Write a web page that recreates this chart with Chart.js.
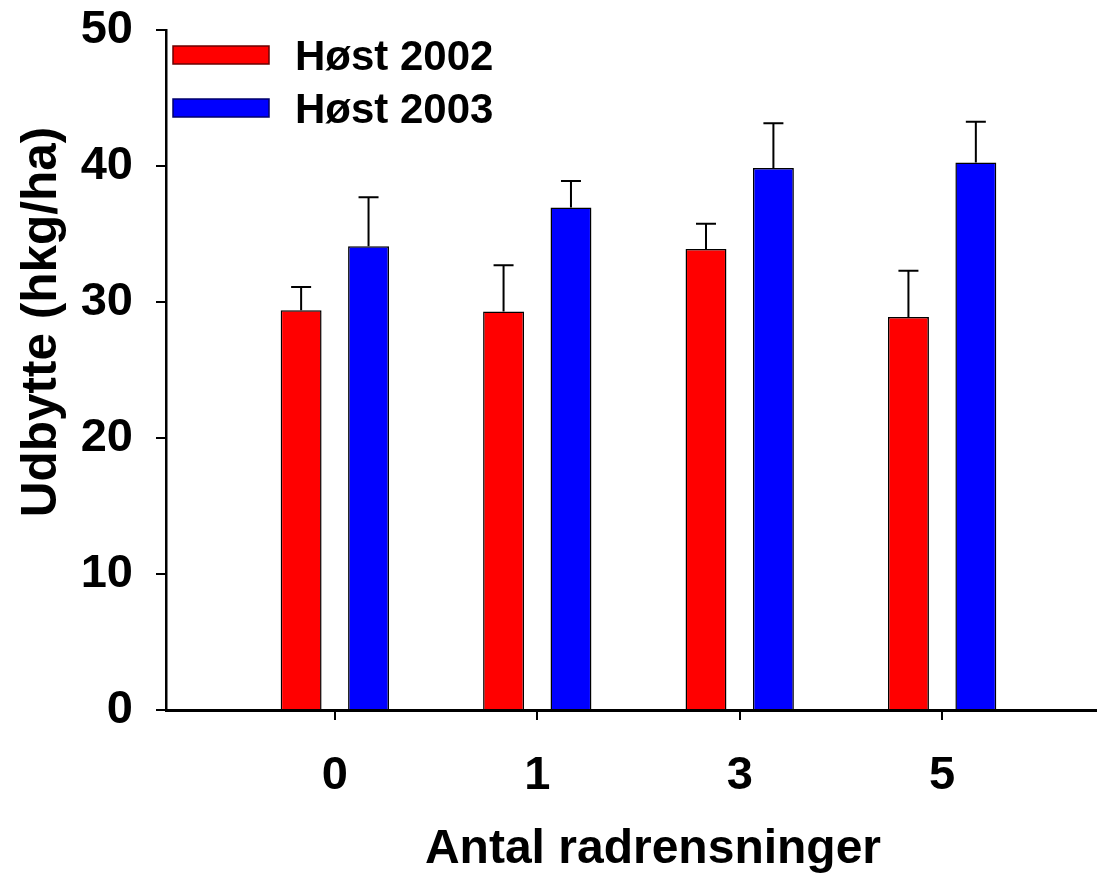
<!DOCTYPE html>
<html>
<head>
<meta charset="utf-8">
<script src="https://cdn.jsdelivr.net/npm/chart.js@4.4.1/dist/chart.umd.min.js"></script>
<style>
html,body{margin:0;padding:0;background:#fff;}
canvas{display:block;}
</style>
</head>
<body>
<canvas id="c" width="1097" height="880"></canvas>
<script>
const categories = ['0', '1', '3', '5'];
const series2002 = [29.4, 29.3, 33.9, 28.9];
const err2002 = [1.7, 3.4, 1.85, 3.4];
const series2003 = [34.1, 36.95, 39.85, 40.25];
const err2003 = [3.6, 1.95, 3.3, 3.0];
const yTicks = [0, 10, 20, 30, 40, 50];
const seriesLabels = ['Høst 2002', 'Høst 2003'];
const xTitle = 'Antal radrensninger';
const yTitle = 'Udbytte (hkg/ha)';

const FONT = '"Liberation Sans", Arial, Helvetica, sans-serif';

const errorBars = {
  id: 'errorBars',
  afterDatasetsDraw(chart) {
    const ctx = chart.ctx;
    const ys = chart.scales.y;
    ctx.save();
    ctx.strokeStyle = '#000';
    ctx.lineWidth = 2;
    chart.data.datasets.forEach((ds, di) => {
      const meta = chart.getDatasetMeta(di);
      meta.data.forEach((el, i) => {
        const top = ys.getPixelForValue(ds.data[i].y + ds.errors[i]);
        ctx.beginPath();
        ctx.moveTo(el.x, el.y);
        ctx.lineTo(el.x, top);
        ctx.moveTo(el.x - 10, top);
        ctx.lineTo(el.x + 10, top);
        ctx.stroke();
      });
    });
    ctx.restore();
  }
};

const extras = {
  id: 'extras',
  afterDraw(chart) {
    const ctx = chart.ctx;
    ctx.save();
    const boxes = [
      {y: 46, fill: '#ff0000', stroke: '#6a0000'},
      {y: 99, fill: '#0000ff', stroke: '#00006a'}
    ];
    ctx.font = 'bold 42px ' + FONT;
    ctx.textBaseline = 'middle';
    ctx.textAlign = 'left';
    boxes.forEach((b, i) => {
      ctx.fillStyle = b.fill;
      ctx.fillRect(173, b.y, 96, 18);
      ctx.strokeStyle = b.stroke;
      ctx.lineWidth = 1.5;
      ctx.strokeRect(173, b.y, 96, 18);
      ctx.fillStyle = '#000';
      ctx.fillText(seriesLabels[i], 295, b.y + 12);
    });
    ctx.font = 'bold 48px ' + FONT;
    ctx.textAlign = 'center';
    ctx.textBaseline = 'alphabetic';
    ctx.fillText(xTitle, 653, 863);
    ctx.font = 'bold 49.5px ' + FONT;
    ctx.translate(56, 322);
    ctx.rotate(-Math.PI / 2);
    ctx.fillText(yTitle, 0, 0);
    ctx.restore();
  }
};

new Chart(document.getElementById('c'), {
  type: 'bar',
  data: {
    datasets: [
      {
        label: seriesLabels[0],
        data: categories.map((c, i) => ({x: i, y: series2002[i]})),
        errors: err2002,
        backgroundColor: '#ff0000',
        borderColor: '#000',
        borderWidth: 1.5,
        borderSkipped: 'start'
      },
      {
        label: seriesLabels[1],
        data: categories.map((c, i) => ({x: i, y: series2003[i]})),
        errors: err2003,
        backgroundColor: '#0000ff',
        borderColor: '#000',
        borderWidth: 1.5,
        borderSkipped: 'start'
      }
    ]
  },
  options: {
    responsive: false,
    animation: false,
    devicePixelRatio: 1,
    categoryPercentage: 0.666,
    barPercentage: 0.607,
    layout: {padding: {top: 30, right: 0, left: 0, bottom: 0}},
    plugins: {legend: {display: false}, tooltip: {enabled: false}},
    scales: {
      x: {
        type: 'linear',
        offset: false,
        min: -0.834,
        max: 3.765,
        afterBuildTicks(scale) {
          scale.ticks = categories.map((c, i) => ({value: i}));
        },
        afterFit(scale) {
          scale.height = 170;
          scale.paddingLeft = 0;
          scale.paddingRight = 0;
        },
        ticks: {
          callback: (v) => categories[v],
          color: '#000',
          font: {family: FONT, size: 47, weight: 'bold'},
          padding: 28,
          maxRotation: 0,
          autoSkip: false
        },
        grid: {
          offset: false,
          drawOnChartArea: false,
          drawTicks: true,
          tickLength: 10,
          color: '#000',
          lineWidth: 2
        },
        border: {display: true, color: '#000', width: 3}
      },
      y: {
        min: 0,
        max: 50,
        afterBuildTicks(scale) {
          scale.ticks = yTicks.map(v => ({value: v}));
        },
        afterFit(scale) {
          scale.width = 166;
          scale.paddingTop = 0;
          scale.paddingBottom = 0;
        },
        ticks: {
          color: '#000',
          font: {family: FONT, size: 47, weight: 'bold'},
          padding: 23
        },
        grid: {
          drawOnChartArea: false,
          drawTicks: true,
          tickLength: 10,
          color: '#000',
          lineWidth: 2
        },
        border: {display: true, color: '#000', width: 2.5}
      }
    }
  },
  plugins: [errorBars, extras]
});
</script>
</body>
</html>
